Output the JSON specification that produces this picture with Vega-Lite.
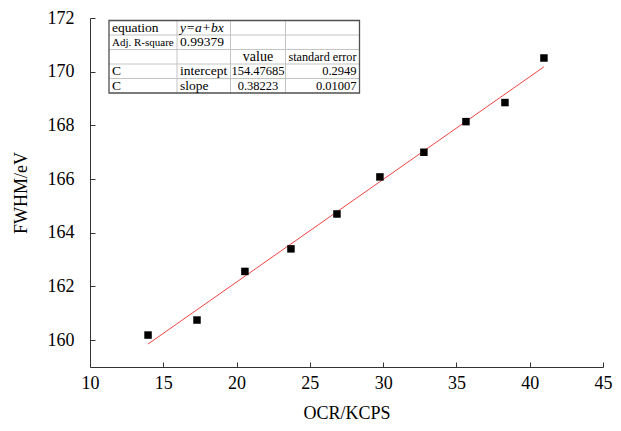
{
  "$schema": "https://vega.github.io/schema/vega-lite/v6.json",
  "width": 513,
  "height": 349,
  "autosize": {"type": "none"},
  "padding": {"left": 90, "top": 18, "right": 18, "bottom": 64},
  "background": "white",
  "config": {"view": {"stroke": null}, "font": "Liberation Serif"},
  "datasets": {
    "pts": [
      {"ocr": 13.96, "fwhm": 160.19},
      {"ocr": 17.30, "fwhm": 160.75},
      {"ocr": 20.57, "fwhm": 162.56},
      {"ocr": 23.71, "fwhm": 163.40},
      {"ocr": 26.85, "fwhm": 164.70},
      {"ocr": 29.78, "fwhm": 166.08},
      {"ocr": 32.78, "fwhm": 167.00},
      {"ocr": 35.65, "fwhm": 168.14},
      {"ocr": 38.31, "fwhm": 168.85},
      {"ocr": 40.97, "fwhm": 170.51}
    ],
    "cells": [
      {"c": 0, "r": 1, "t": "equation"},
      {"c": 1, "r": 1, "t": "y=a+bx"},
      {"c": 0, "r": 2, "t": "Adj. R-square"},
      {"c": 1, "r": 2, "t": "0.99379"},
      {"c": 2, "r": 3, "t": "value"},
      {"c": 3, "r": 3, "t": "standard error"},
      {"c": 0, "r": 4, "t": "C"},
      {"c": 1, "r": 4, "t": "intercept"},
      {"c": 2, "r": 4, "t": "154.47685"},
      {"c": 3, "r": 4, "t": "0.2949"},
      {"c": 0, "r": 5, "t": "C"},
      {"c": 1, "r": 5, "t": "slope"},
      {"c": 2, "r": 5, "t": "0.38223"},
      {"c": 3, "r": 5, "t": "0.01007"}
    ],
    "vlines": [{"c": 1}, {"c": 2}, {"c": 3}],
    "hlines": [{"r": 1}, {"r": 2}, {"r": 3}, {"r": 4}],
    "frame": [{"c0": 0, "c1": 4, "r0": 0, "r1": 5}]
  },
  "layer": [
    {
      "data": {"name": "pts"},
      "encoding": {
        "x": {
          "field": "ocr", "type": "quantitative",
          "scale": {"domain": [10, 45], "nice": false, "zero": false},
          "axis": {
            "values": [10, 15, 20, 25, 30, 35, 40, 45],
            "title": "OCR/KCPS", "grid": false, "tickSize": -5,
            "labelPadding": 12, "labelFontSize": 18, "labelFont": "Liberation Serif",
            "labelColor": "black", "labelFlush": false, "labelOverlap": false,
            "titleFontSize": 18, "titleFont": "Liberation Serif", "titleFontWeight": "normal",
            "titleColor": "black", "titlePadding": 12,
            "domainColor": "#333", "tickColor": "#333"
          }
        },
        "y": {
          "field": "fwhm", "type": "quantitative",
          "scale": {"domain": [159, 172], "nice": false, "zero": false},
          "axis": {
            "values": [160, 162, 164, 166, 168, 170, 172],
            "title": "FWHM/eV", "grid": false, "tickSize": -5,
            "labelPadding": 21, "labelFontSize": 18, "labelFont": "Liberation Serif",
            "labelColor": "black", "labelFlush": false, "labelOverlap": false,
            "titleFontSize": 18, "titleFont": "Liberation Serif", "titleFontWeight": "normal",
            "titleColor": "black", "titlePadding": 17,
            "domainColor": "#333", "tickColor": "#333"
          }
        }
      },
      "layer": [
        {
          "transform": [{"regression": "fwhm", "on": "ocr"}],
          "mark": {"type": "line", "color": "#ee4444", "strokeWidth": 1}
        },
        {
          "mark": {"type": "square", "filled": true, "color": "black", "size": 56, "opacity": 1}
        }
      ]
    },
    {
      "layer": [
        {
          "data": {"name": "vlines"},
          "mark": {"type": "rule", "color": "#c4c4c4", "strokeWidth": 1},
          "encoding": {
            "x": {"field": "c", "type": "quantitative", "scale": {"domain": [0, 1, 2, 3, 4], "range": [19, 87, 140.5, 195.5, 269.5], "nice": false, "zero": false}, "axis": null},
            "y": {"datum": 0, "type": "quantitative", "scale": {"domain": [0, 1, 2, 3, 4, 5], "range": [2.5, 17, 31.5, 46, 60.5, 75], "nice": false, "zero": false}, "axis": null},
            "y2": {"datum": 5}
          }
        },
        {
          "data": {"name": "hlines"},
          "mark": {"type": "rule", "color": "#c4c4c4", "strokeWidth": 1},
          "encoding": {
            "y": {"field": "r", "type": "quantitative", "axis": null},
            "x": {"datum": 0, "type": "quantitative", "axis": null},
            "x2": {"datum": 4}
          }
        },
        {
          "data": {"name": "frame"},
          "mark": {"type": "rect", "filled": false, "stroke": "#505050", "strokeWidth": 1.3},
          "encoding": {
            "x": {"field": "c0", "type": "quantitative", "axis": null},
            "x2": {"field": "c1"},
            "y": {"field": "r0", "type": "quantitative", "axis": null},
            "y2": {"field": "r1"}
          }
        },
        {
          "data": {"name": "cells"},
          "transform": [{"filter": "datum.c <= 1 && datum.t !== 'y=a+bx'"}],
          "mark": {"type": "text", "align": "left", "baseline": "alphabetic", "dx": 3, "dy": -3.5, "font": "Liberation Serif", "color": "black"},
          "encoding": {
            "x": {"field": "c", "type": "quantitative", "axis": null},
            "y": {"field": "r", "type": "quantitative", "axis": null},
            "text": {"field": "t"},
            "size": {"condition": {"test": "datum.t === 'Adj. R-square'", "value": 11}, "value": 13.5}
          }
        },
        {
          "data": {"name": "cells"},
          "transform": [{"filter": "datum.t === 'y=a+bx'"}],
          "mark": {"type": "text", "align": "left", "baseline": "alphabetic", "dx": 3, "dy": -3.5, "font": "Liberation Serif", "fontStyle": "italic", "fontSize": 13.5, "color": "black"},
          "encoding": {
            "x": {"field": "c", "type": "quantitative", "axis": null},
            "y": {"field": "r", "type": "quantitative", "axis": null},
            "text": {"field": "t"}
          }
        },
        {
          "data": {"name": "cells"},
          "transform": [{"filter": "datum.c === 2"}],
          "mark": {"type": "text", "align": "center", "baseline": "alphabetic", "dx": 27.5, "dy": -3.5, "font": "Liberation Serif", "color": "black"},
          "encoding": {
            "x": {"field": "c", "type": "quantitative", "axis": null},
            "y": {"field": "r", "type": "quantitative", "axis": null},
            "text": {"field": "t"},
            "size": {"condition": {"test": "datum.t === 'value'", "value": 14}, "value": 12.5}
          }
        },
        {
          "data": {"name": "cells"},
          "transform": [{"filter": "datum.c === 3"}],
          "mark": {"type": "text", "align": "right", "baseline": "alphabetic", "dx": 71, "dy": -3.5, "font": "Liberation Serif", "color": "black"},
          "encoding": {
            "x": {"field": "c", "type": "quantitative", "axis": null},
            "y": {"field": "r", "type": "quantitative", "axis": null},
            "text": {"field": "t"},
            "size": {"condition": {"test": "datum.t === 'standard error'", "value": 12.2}, "value": 12.5}
          }
        }
      ]
    }
  ],
  "resolve": {"scale": {"x": "independent", "y": "independent"}}
}
